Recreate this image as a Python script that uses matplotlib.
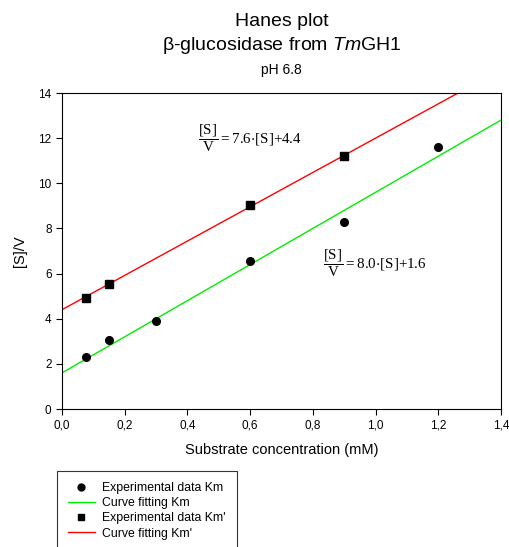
import numpy as np
import matplotlib
matplotlib.use("Agg")
import matplotlib.pyplot as plt
from matplotlib.ticker import FuncFormatter

plt.rcParams['font.family'] = ['Liberation Sans', 'DejaVu Sans']
plt.rcParams['mathtext.fontset'] = 'custom'
plt.rcParams['mathtext.rm'] = 'Liberation Serif'
plt.rcParams['mathtext.it'] = 'Liberation Sans:italic'
plt.rcParams['mathtext.fallback'] = 'stix'

# Hanes-Woolf data: substrate concentration (mM) vs [S]/V
s_km = [0.075, 0.15, 0.30, 0.60, 0.90, 1.20]
sv_km = [2.30, 3.05, 3.90, 6.55, 8.30, 11.60]
s_kmp = [0.075, 0.15, 0.60, 0.90]
sv_kmp = [4.90, 5.55, 9.05, 11.20]

# Linear fits: [S]/V = slope*[S] + intercept
fit_km = (8.0, 1.6)
fit_kmp = (7.6, 4.4)

x_ticks = [0.0, 0.2, 0.4, 0.6, 0.8, 1.0, 1.2, 1.4]
y_ticks = [0, 2, 4, 6, 8, 10, 12, 14]

W, H = 510, 547
fig = plt.figure(figsize=(W / 100, H / 100), dpi=100)
ax = fig.add_axes([62 / W, 1 - 409 / H, (501 - 62) / W, (409 - 93) / H])

xx = np.linspace(0, 1.4, 200)
ax.plot(s_km, sv_km, 'o', color='black', ms=5.5, label='Experimental data Km', zorder=3)
ax.plot(xx, fit_km[0] * xx + fit_km[1], color='#00ee00', lw=1.0, label='Curve fitting Km')
ax.plot(s_kmp, sv_kmp, 's', color='black', ms=5.5, label="Experimental data Km'", zorder=3)
ax.plot(xx, fit_kmp[0] * xx + fit_kmp[1], color='#ff0000', lw=1.0, label="Curve fitting Km'")

ax.set_xlim(0, 1.4)
ax.set_ylim(0, 14)
ax.set_xticks(x_ticks)
ax.set_yticks(y_ticks)
ax.xaxis.set_major_formatter(FuncFormatter(lambda v, p: f"{v:.1f}".replace('.', ',')))
ax.tick_params(direction='out', length=4, width=0.8, labelsize=8.5, top=False, right=False)
for sp in ax.spines.values():
    sp.set_linewidth(0.8)

ax.set_xlabel('Substrate concentration (mM)', fontsize=10.5, labelpad=8)
ax.set_ylabel('[S]/V', fontsize=10.5, labelpad=8)


def fit_label(slope, intercept):
    return (r'$\dfrac{[\mathrm{S}]}{\mathrm{V}}{=}' + f'{slope:.1f}' +
            r'{\cdot}[\mathrm{S}]{+}' + f'{intercept:.1f}' + '$')


# Fitted equations
ax.text(0.435, 12.0, fit_label(*fit_kmp), fontsize=10.8, ha='left', va='center')
ax.text(0.833, 6.48, fit_label(*fit_km), fontsize=10.8, ha='left', va='center')

# Titles
cx = (62 + 501) / 2 / W
fig.text(cx, 1 - 21 / H, 'Hanes plot', fontsize=14, ha='center', va='center')
fig.text(cx, 1 - 45 / H, r'β-glucosidase from $\mathit{Tm}$GH1', fontsize=14,
         ha='center', va='center')
fig.text(cx, 1 - 70 / H, 'pH 6.8', fontsize=10, ha='center', va='center')

leg = fig.legend(loc='upper left', bbox_to_anchor=(57 / W, 1 - 471 / H),
                 fontsize=8.8, frameon=True, fancybox=False, edgecolor='black',
                 handlelength=2.2, handletextpad=0.6, labelspacing=0.26,
                 borderpad=0.9, borderaxespad=0, markerscale=0.9)
leg.get_frame().set_linewidth(0.8)

fig.savefig('out.png', dpi=100)
